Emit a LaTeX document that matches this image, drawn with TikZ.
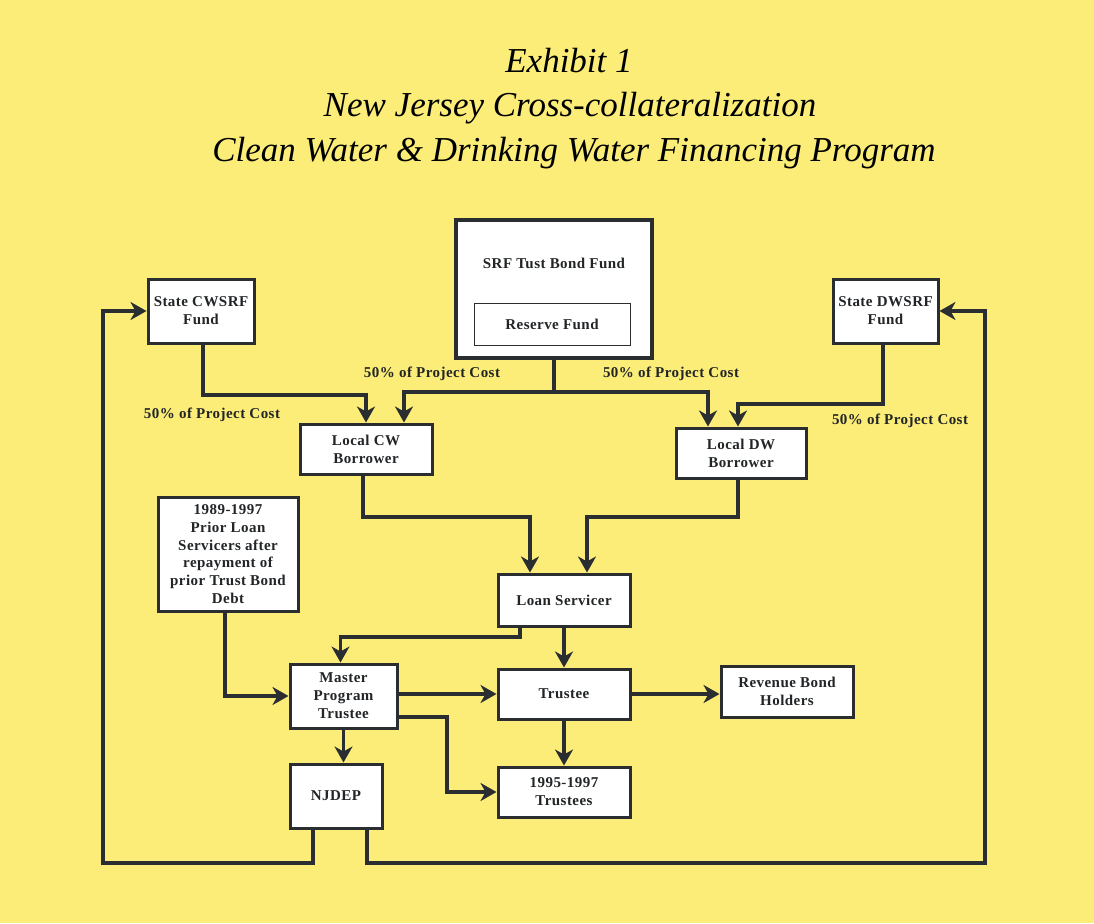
\documentclass[tikz,border=0pt]{standalone}
\usepackage{fontspec}
\setmainfont{Liberation Serif}
\newfontfamily\boxfont[LetterSpace=3]{Liberation Serif}
\usetikzlibrary{arrows.meta}
\definecolor{bg}{RGB}{251,237,120}
\definecolor{ink}{RGB}{43,46,48}
\tikzset{
  box/.style={draw=ink, line width=3pt, fill=white, inner sep=2pt, align=center, text=ink!80!black, font=\boxfont\fontsize{15}{18}\selectfont\bfseries},
  thinbox/.style={draw=ink, line width=1pt, fill=white, align=center, text=ink!80!black, font=\boxfont\fontsize{15}{18}\selectfont\bfseries},
  lbl/.style={font=\boxfont\fontsize{15}{18}\selectfont\bfseries, text=ink!80!black, inner sep=0pt},
  ttl/.style={font=\fontsize{35}{40}\selectfont\itshape, anchor=base, inner sep=0pt},
  line/.style={draw=ink, line width=3.2pt},
  arr/.style={line, -{Stealth[length=16pt,width=18pt,inset=5pt]}},
}
\begin{document}
\begin{tikzpicture}[x=1pt,y=-1pt]
\fill[bg] (0,0) rectangle (1094,923);
\useasboundingbox (0,0) rectangle (1094,923);
% title
\node[ttl] (t1) at (569,73) {Exhibit 1};
\node[ttl] (t2) at (570,117) {New Jersey Cross-collateralization};
\node[ttl] (t3) at (574,161) {Clean Water \& Drinking Water Financing Program};
% nodes
\node[box, line width=3.5pt, minimum width=196pt, minimum height=138pt] (srf) at (554,289) {};
\node[lbl] (srft) at (554,263) {SRF Tust Bond Fund};
\node[thinbox, minimum width=156pt, minimum height=42pt] (res) at (552,324) {Reserve Fund};
\node[box, minimum width=106pt, minimum height=64pt] (cws) at (201,311) {State CWSRF\\Fund};
\node[box, minimum width=105pt, minimum height=64pt] (dws) at (885.5,311) {State DWSRF\\Fund};
\node[box, minimum width=132pt, minimum height=50pt] (lcw) at (366,449) {Local CW\\Borrower};
\node[box, minimum width=130pt, minimum height=50pt] (ldw) at (741,453) {Local DW\\Borrower};
\node[box, minimum width=140pt, minimum height=114pt, inner sep=0pt, font=\boxfont\fontsize{15}{17.8}\selectfont\bfseries] (prior) at (228,554) {1989-1997\\ Prior Loan\\Servicers after\\repayment of\\prior Trust Bond\\Debt};
\node[box, minimum width=132pt, minimum height=52pt] (ls) at (564,600) {Loan Servicer};
\node[box, minimum width=107pt, minimum height=64pt] (mpt) at (343.5,696) {Master\\Program\\Trustee};
\node[box, minimum width=132pt, minimum height=50pt] (tr) at (564,694) {Trustee};
\node[box, minimum width=132pt, minimum height=51pt] (rbh) at (787,691.5) {Revenue Bond\\Holders};
\node[box, minimum width=92pt, minimum height=64pt] (nj) at (336,796) {NJDEP};
\node[box, minimum width=132pt, minimum height=50pt] (t95) at (564,792) {1995-1997\\Trustees};
% labels
\node[lbl] (l1) at (432,374) {50\% of Project Cost};
\node[lbl] (l2) at (671,374) {50\% of Project Cost};
\node[lbl] (l3) at (212,415) {50\% of Project Cost};
\node[lbl] (l4) at (900,421) {50\% of Project Cost};
% connectors
\draw[arr] ([xshift=2]cws.south) -- ([xshift=2]cws.south |- 0,395) -| (lcw.north);
\draw[line] (srf.south) -- (srf.south |- 0,392) coordinate (sj);
\draw[arr] (sj) -| ([xshift=38]lcw.north);
\draw[arr] (sj) -| ([xshift=-33]ldw.north);
\draw[arr] ([xshift=-2.5]dws.south) -- ([xshift=-2.5]dws.south |- 0,404) -| ([xshift=-3]ldw.north);
\draw[arr] ([xshift=-3]lcw.south) -- ([xshift=-3]lcw.south |- 0,517) -| ([xshift=-34]ls.north);
\draw[arr] ([xshift=-3]ldw.south) -- ([xshift=-3]ldw.south |- 0,517) -| ([xshift=23]ls.north);
\draw[arr] ([xshift=-3]prior.south) |- (mpt.west);
\draw[arr] ([xshift=-44]ls.south) -- ([xshift=-44]ls.south |- 0,637) -| ([xshift=-3]mpt.north);
\draw[arr] (ls.south) -- (tr.north);
\draw[arr] (tr.west -| mpt.east) -- (tr.west);
\draw[arr] (mpt.east |- 0,717) -- (447,717) |- (t95.west);
\draw[arr] (mpt.south) -- (mpt.south |- nj.north);
\draw[arr] (tr.east) -- (tr.east -| rbh.west);
\draw[arr] (tr.south) -- (t95.north);
\draw[arr] ([xshift=-23]nj.south) |- (103,863) |- (cws.west);
\draw[arr] ([xshift=31]nj.south) |- (985,863) |- (dws.east);
\end{tikzpicture}
\end{document}
